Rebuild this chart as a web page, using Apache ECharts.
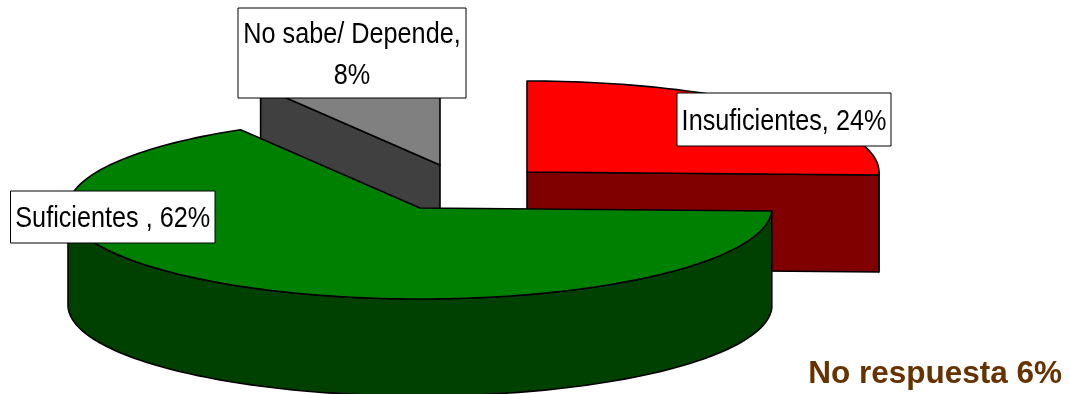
<!DOCTYPE html>
<html>
<head>
<meta charset="utf-8">
<style>html,body{margin:0;padding:0;background:#fff}#c{width:1070px;height:394px}</style>
<script src="https://cdn.jsdelivr.net/npm/echarts@6/dist/echarts.min.js"></script>
</head>
<body>
<div id="c"></div>
<script>
const categories = ['Insuficientes', 'Suficientes ', 'No sabe/ Depende'];
const shares = [24, 62, 8];
const labelTexts = ['Insuficientes, 24%', 'Suficientes , 62%', 'No sabe/ Depende,\n8%'];
const footnote = 'No respuesta 6%';

const startAngle = -90;
const topColors = ['#ff0000', '#008000', '#808080'];
const sideColors = ['#800000', '#004000', '#404040'];
const offsets = [[107, -36], [0, 0], [20, -43]];
const center = [420, 208], rx = 352, ry = 91, depth = 97;

const chart = echarts.init(document.getElementById('c'), null, {renderer: 'canvas'});
const rad = d => d * Math.PI / 180;

function pt(cx, cy, deg) { return [cx + rx * Math.cos(rad(deg)), cy + ry * Math.sin(rad(deg))]; }
function arc(cx, cy, a, b) {
  const out = [], n = Math.max(2, Math.ceil(Math.abs(b - a) / 1.5));
  for (let i = 0; i <= n; i++) out.push(pt(cx, cy, a + (b - a) * i / n));
  return out;
}
const lineStyle = {stroke: '#000', lineWidth: 1.6, lineJoin: 'round'};
function poly(points, fill) {
  return {type: 'polygon', shape: {points}, style: Object.assign({fill}, lineStyle)};
}

// wedge angles derived from the shares (the pie is drawn over the answered total only)
const total = shares.reduce((s, v) => s + v, 0);
const spans = [];
let cur = startAngle;
shares.forEach(s => {
  const sweep = s / total * 360;
  spans.push([cur, cur + sweep]);
  cur += sweep;
});

function renderItem(params, api) {
  const i = api.value(0);
  const [a, b] = spans[i];
  const cx = center[0] + offsets[i][0], cy = center[1] + offsets[i][1];
  const children = [];
  const apex = [cx, cy], apexB = [cx, cy + depth];
  const pa = pt(cx, cy, a), pb = pt(cx, cy, b);
  const down = p => [p[0], p[1] + depth];
  // cut faces that look towards the viewer
  if (i === 0) children.push(poly([apex, pb, down(pb), apexB], sideColors[i]));
  if (i === 2) children.push(poly([apex, pa, down(pa), apexB], sideColors[i]));
  // outer wall where the arc passes through the front half of the ellipse
  const wa = Math.max(a, 0), wb = Math.min(b, 180);
  if (wb > wa) {
    const top = arc(cx, cy, wa, wb);
    const bottom = arc(cx, cy + depth, wb, wa);
    children.push(poly(top.concat(bottom), sideColors[i]));
  }
  children.push(poly([apex].concat(arc(cx, cy, a, b)), topColors[i]));
  return {type: 'group', children};
}

const boxes = [
  {i: 0, x: 677, y: 93, w: 214, h: 53},
  {i: 1, x: 10.5, y: 191, w: 204.5, h: 52},
  {i: 2, x: 238, y: 8, w: 228, h: 90}
];
const fontSize = 29, squeeze = 0.87;
function labelItem(params, api) {
  const b = boxes[api.value(0)];
  const cx = b.x + b.w / 2, cy = b.y + b.h / 2 + 2;
  return {type: 'group', children: [
    {type: 'rect', shape: {x: b.x, y: b.y, width: b.w, height: b.h},
     style: {fill: '#fff', stroke: '#000', lineWidth: 1}},
    {type: 'text', x: cx, y: cy, scaleX: squeeze, scaleY: 1,
     style: {text: labelTexts[b.i], fill: '#000', font: fontSize + 'px "Liberation Sans", Arial, sans-serif',
             textAlign: 'center', textVerticalAlign: 'middle', lineHeight: 41}}
  ]};
}

chart.setOption({
  animation: false,
  backgroundColor: '#fff',
  xAxis: {show: false, min: 0, max: 1}, yAxis: {show: false, min: 0, max: 1},
  grid: {left: 0, right: 0, top: 0, bottom: 0},
  graphic: [{type: 'text', right: 8, top: 358,
    style: {text: footnote, fill: '#663300', font: 'bold 31.5px "Liberation Sans", Arial, sans-serif'}}],
  series: [
    {type: 'custom', renderItem, coordinateSystem: 'none', clip: false, silent: true,
     data: [[2], [0], [1]]},
    {type: 'custom', renderItem: labelItem, coordinateSystem: 'none', clip: false, silent: true,
     data: [[0], [1], [2]]}
  ]
});
</script>
</body>
</html>
